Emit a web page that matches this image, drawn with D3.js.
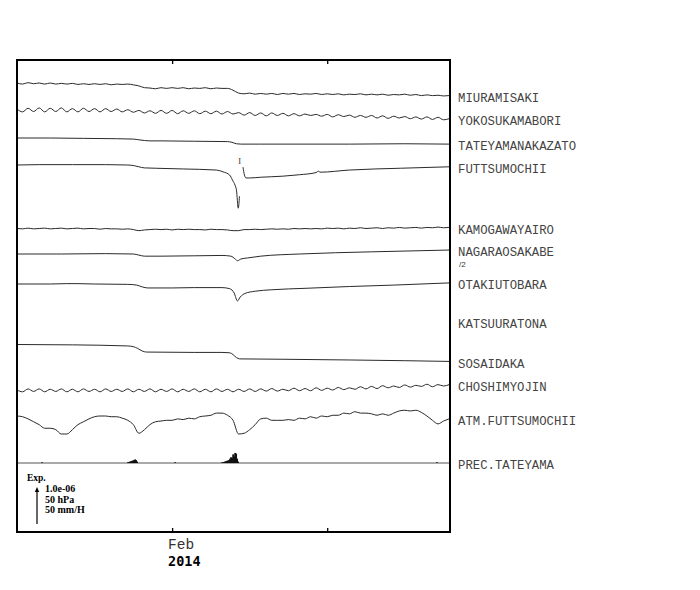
<!DOCTYPE html>
<html><head><meta charset="utf-8">
<script src="https://cdn.jsdelivr.net/npm/d3@7"></script>
<style>body{margin:0;background:#fff}svg{display:block}</style>
</head><body>
<script>
// ---------- DATA ----------
// strain in units of 1e-8 (relative to start), 12-hour samples from 2014-01-18
const miuramisaki = [0,-3,1,-2,0,-3,0,-3,-1,-3,-1,-4,-2,-4,-2,-4,-2,-5,-3,-4,-3,-5,-8,-13,-14,-16,-13,-15,-13,-15,-13,-16,-14,-15,-13,-16,-14,-15,-15,-20,-28,-30,-28,-31,-29,-31,-29,-32,-29,-31,-29,-32,-30,-31,-29,-32,-30,-32,-30,-33,-31,-32,-30,-33,-31,-33,-31,-34,-32,-33,-31,-34,-32,-35,-33,-35,-34,-36,-35];
const yokosukamabori = [0,-8,2,-7,3,-8,2,-7,3,-8,1,-8,2,-7,1,-8,1,-7,0,-8,-2,-9,-4,-11,-5,-12,-4,-12,-4,-13,-5,-12,-5,-13,-6,-13,-6,-14,-7,-14,-10,-17,-10,-18,-11,-19,-11,-18,-12,-19,-13,-19,-14,-18,-15,-20,-15,-22,-16,-21,-17,-23,-18,-23,-18,-25,-19,-26,-20,-25,-21,-27,-22,-28,-22,-29,-23,-30,-27];
const kamogawayairo = [0,-1,1,-1,0,1,-1,0,1,-1,0,1,-1,0,0,-2,0,-1,-1,-2,-1,-3,-6,-4,-3,-2,-3,-2,-4,-2,-3,-2,-3,-3,-4,-2,-3,-3,-4,-6,-6,-3,-3,-2,-3,-2,-1,-2,-1,-2,0,-1,0,-1,0,-1,1,0,1,-1,1,0,2,0,1,2,0,2,1,3,1,2,3,1,3,2,4,2,3];
const choshimyojin = [0,-5,3,-4,3,-5,2,-4,3,-5,2,-5,3,-4,2,-5,3,-4,2,-4,3,-5,2,-4,3,-5,2,-4,3,-5,2,-4,3,-5,2,-5,3,-4,2,-5,2,-4,3,-4,3,-3,4,-3,2,-2,5,-2,4,-2,6,-1,5,0,7,1,6,2,9,3,10,4,12,6,11,7,14,8,13,10,16,9,15,11,15];
// [day since 2014-01-18, value]
const tateyamanakazato = [[0,0],[3,0],[6,-1],[9,-2],[10.5,-3],[11,-5],[11.5,-7],[12,-8],[13,-8],[16,-9],[19,-10],[19.4,-12],[19.8,-16],[20.2,-17],[22,-17],[26,-17],[30,-17],[35,-16],[39,-17]];
const futtsumochii = [[0,0],[2,1],[5,1],[8,1],[10,0],[10.6,-2],[11,-5],[11.5,-8],[12.5,-9],[15,-11],[18,-14],[18.6,-19],[19.2,-28],[19.45,-42],[19.68,-56],[19.81,-70],[19.97,-120],[20.08,-87],[20.25,null],[20.4,-6],[20.53,-28],[20.67,-36],[21,-36],[22,-34],[24,-31],[25.5,-27],[27,-21],[27.2,-17],[27.35,-20],[30,-14],[34.6,-9],[39,-5]];
const nagaraosakabe = [[0,0],[4,0],[8,2],[10.5,0],[11,-6],[11.5,-12],[13,-12],[16,-10],[18.5,-8],[19.3,-12],[19.7,-28],[19.9,-38],[20.2,-28],[20.8,-22],[22,-12],[25.5,0],[32,12],[39,22]];
const otakiutobara = [[0,0],[3,0],[4.5,1],[5.5,1],[7,0],[10,-1],[10.8,-3],[11.3,-8],[11.8,-11],[14,-11],[16,-10],[18.5,-10],[19.2,-13],[19.6,-25],[19.9,-47],[20.15,-36],[20.6,-26],[21.5,-20],[23,-16],[26,-12],[30,-7],[34,-3],[39,3]];
const katsuuratona = [];
const sosaidaka = [[0,0],[5,-1],[10,-4],[10.5,-6],[10.9,-11],[11.3,-18],[11.7,-21],[16,-22],[18.5,-22],[19.2,-23],[19.5,-28],[19.8,-36],[20.1,-40],[24,-41],[30,-43],[35,-45],[39,-47]];
// atmospheric pressure hPa, 12-hour samples
const atmFuttsumochii = [1020,1019,1016,1012,1008,1003,1003,1001,995,995,1001,1008,1012,1016,1019,1020,1020,1019,1019,1017,1014,1008,996,1001,1008,1012,1013,1014,1014,1016,1015,1017,1016,1019,1020,1021,1024,1024,1021,1014,995,996,1001,1008,1016,1017,1014,1014,1014,1015,1014,1017,1016,1019,1017,1020,1019,1021,1021,1024,1023,1026,1024,1024,1023,1021,1023,1021,1024,1027,1028,1027,1028,1025,1020,1014,1009,1013,1016];
// precipitation mm/h [day, value]
const precTateyama = [[2.26,1],[10.0,1],[10.1,1.5],[10.2,2],[10.3,2.5],[10.38,3],[10.47,3.5],[10.56,4],[10.65,5],[10.74,4],[10.83,2],[14.26,1],[18.5,1],[18.6,1],[18.7,1.5],[18.77,2],[18.86,2.5],[18.95,3],[19.04,3.5],[19.13,4],[19.22,6],[19.31,8],[19.4,7],[19.5,12],[19.6,9],[19.68,14],[19.77,13],[19.86,6],[19.95,2],[37.9,1]];
const stationNames = ["MIURAMISAKI","YOKOSUKAMABORI","TATEYAMANAKAZATO","FUTTSUMOCHII","KAMOGAWAYAIRO","NAGARAOSAKABE","OTAKIUTOBARA","KATSUURATONA","SOSAIDAKA","CHOSHIMYOJIN","ATM.FUTTSUMOCHII","PREC.TATEYAMA"];
const tickDates = ["2014-02-01","2014-02-15"];
const tickLabels = ["Feb",""];
const yearLabel = "2014";
const legendLabels = ["1.0e-06","50 hPa","50 mm/H"];

// ---------- LAYOUT ----------
const W = 700, H = 590;
const L = 17, R = 450, T = 60, B = 532;
const start = new Date(2014,0,18);
const end = new Date(2014,1,26,2);
const tAt = d => new Date(start.getTime() + d*864e5);
const grid = arr => arr.map((v,i) => [i*0.5, v]);
const scalePx = 36; // px per 1e-6 strain / 50 hPa / 50 mm/h

const rows = [
  {name: stationNames[0], data: grid(miuramisaki), base: 83, k: 1},
  {name: stationNames[1], data: grid(yokosukamabori), base: 109, k: 1},
  {name: stationNames[2], data: tateyamanakazato, base: 138, k: 1},
  {name: stationNames[3], data: futtsumochii, base: 165, k: 1},
  {name: stationNames[4], data: grid(kamogawayairo), base: 228.5, k: 1},
  {name: stationNames[5], data: nagaraosakabe, base: 254, k: 0.5, sub: "/2"},
  {name: stationNames[6], data: otakiutobara, base: 284, k: 1},
  {name: stationNames[7], data: katsuuratona, base: 322, k: 1},
  {name: stationNames[8], data: sosaidaka, base: 344.5, k: 1},
  {name: stationNames[9], data: grid(choshimyojin), base: 390, k: 1},
];

const svg = d3.select("body").append("svg").attr("width", W).attr("height", H);
svg.append("rect").attr("width", W).attr("height", H).attr("fill", "#fff");
svg.append("clipPath").attr("id","clip").append("rect").attr("x",L).attr("y",T).attr("width",R-L).attr("height",B-T);

const x = d3.scaleTime().domain([start, end]).range([L, R]);
const g = svg.append("g").attr("clip-path","url(#clip)");
const mono = "'Liberation Mono','Courier New',monospace";
const ink = "#2a2a2a";

rows.forEach(r => {
  const y = d3.scaleLinear().domain([0, 100]).range([r.base, r.base - scalePx * r.k]);
  r.y = y;
  if (!r.data.length) return;
  const line = d3.line().defined(d => d[1] != null).x(d => x(tAt(d[0]))).y(d => y(d[1])).curve(d3.curveMonotoneX);
  g.append("path").datum(r.data).attr("d", line).attr("fill","none").attr("stroke",ink).attr("stroke-width",1);
});

// offset marker on FUTTSUMOCHII
{
  const r = rows[3];
  svg.append("text").attr("x", x(tAt(20.1))).attr("y", r.y(-6) - 3).attr("text-anchor","middle")
    .attr("font-family","'Liberation Serif',serif").attr("font-size",8.5).attr("fill","#333").text("I");
}

// ATM
const yAtm = d3.scaleLinear().domain([1020, 1070]).range([416, 416 - scalePx]);
const atmData = grid(atmFuttsumochii);
g.append("path").datum(atmData)
  .attr("d", d3.line().x(d => x(tAt(d[0]))).y(d => yAtm(d[1])).curve(d3.curveMonotoneX))
  .attr("fill","none").attr("stroke",ink).attr("stroke-width",1);

// PREC
const yPrec = d3.scaleLinear().domain([0, 50]).range([463, 463 - scalePx]);
g.append("line").attr("x1",L).attr("x2",R).attr("y1",yPrec(0)).attr("y2",yPrec(0)).attr("stroke","#555").attr("stroke-width",1);
g.selectAll("rect.prec").data(precTateyama).join("rect").attr("class","prec")
  .attr("x", d => x(tAt(d[0])) - 0.8).attr("width", 1.8)
  .attr("y", d => yPrec(d[1])).attr("height", d => yPrec(0) - yPrec(d[1])).attr("fill","#111");

// labels
const labelY = rows.map(r => r.data.length ? r.y(r.data.filter(d=>d[1]!=null).slice(-1)[0][1]) : r.base);
labelY.push(yAtm(atmFuttsumochii[atmFuttsumochii.length-1]));
labelY.push(yPrec(0));
stationNames.forEach((n,i) => {
  svg.append("text").attr("x", 458).attr("y", labelY[i] + 3).attr("dominant-baseline","middle")
    .attr("font-family", mono).attr("font-size", 12.3).attr("fill","#444").text(n);
});
svg.append("text").attr("x", 459).attr("y", labelY[5] + 15).attr("dominant-baseline","middle")
  .attr("font-family","'Liberation Sans',sans-serif").attr("font-size",8).attr("fill","#333").text(rows[5].sub);

// frame & axes
const ticks = tickDates.map(s => { const p = s.split("-"); return new Date(+p[0], +p[1]-1, +p[2]); });
svg.append("g").attr("transform",`translate(0,${T})`)
  .call(d3.axisTop(x).tickValues(ticks).tickSize(-4).tickFormat(""))
  .call(a => { a.select(".domain").remove(); a.selectAll("line").attr("stroke","#000").attr("stroke-width",1.3); });
svg.append("g").attr("transform",`translate(0,${B})`)
  .call(d3.axisBottom(x).tickValues(ticks).tickSize(-4).tickFormat(""))
  .call(a => { a.select(".domain").remove(); a.selectAll("line").attr("stroke","#000").attr("stroke-width",1.3); });
svg.append("rect").attr("x",L).attr("y",T).attr("width",R-L).attr("height",B-T)
  .attr("fill","none").attr("stroke","#000").attr("stroke-width",2);

ticks.forEach((t,i) => {
  if (!tickLabels[i]) return;
  svg.append("text").attr("x", x(t) - 4).attr("y", 549).attr("font-family", mono).attr("font-size", 14.5).attr("fill","#333").text(tickLabels[i]);
});
svg.append("text").attr("x", x(ticks[0]) - 4).attr("y", 566).attr("font-family","'DejaVu Sans Mono',monospace").attr("font-weight","bold").attr("font-size", 13.5).attr("fill","#000").text(yearLabel);

// legend
const serifB = "'Liberation Serif','Times New Roman',serif";
svg.append("text").attr("x", 27).attr("y", 481).attr("font-family", serifB).attr("font-weight","bold").attr("font-size", 9.5).text("Exp.");
const ax = 37, ay0 = 524, ay1 = 524 - scalePx;
svg.append("line").attr("x1",ax).attr("x2",ax).attr("y1",ay0).attr("y2",ay1+3).attr("stroke","#000").attr("stroke-width",1.2);
svg.append("path").attr("d",`M${ax-2.2},${ay1+4}L${ax},${ay1-1}L${ax+2.2},${ay1+4}Z`).attr("fill","#000");
legendLabels.forEach((s,i) => {
  svg.append("text").attr("x", 45).attr("y", 492 + i*10.5).attr("font-family", serifB).attr("font-weight","bold").attr("font-size", 10).text(s);
});
</script>
</body></html>
